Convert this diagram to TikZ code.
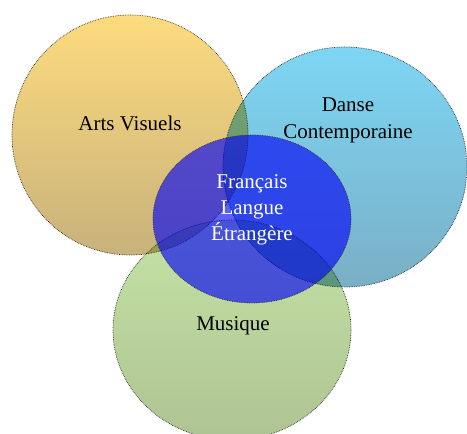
\documentclass[tikz,border=0pt]{standalone}
\definecolor{arttop}{RGB}{253,219,126}
\definecolor{artbot}{RGB}{200,178,124}
\definecolor{dantop}{RGB}{125,214,245}
\definecolor{danbot}{RGB}{122,175,197}
\definecolor{mustop}{RGB}{197,227,165}
\definecolor{musbot}{RGB}{174,195,147}
\definecolor{main}{RGB}{0,0,245}
\usepackage{fontspec}
\setmainfont{Liberation Serif}
\usepackage{tikz}
\usetikzlibrary{
	positioning,
	shapes.geometric
}
\tikzset{
  % set
	cstset/.style      ={draw=black!80, densely dotted, line width=0.7pt, blend mode=multiply},
	cstset1/.style     ={cstset, top color=arttop, bottom color=artbot},
	cstset2/.style     ={cstset, top color=dantop, bottom color=danbot},
	cstset3/.style     ={cstset, top color=mustop, bottom color=musbot},
	cstsetc/.style     ={draw=black!80, densely dotted, line width=0.7pt, fill=main, fill opacity=0.63},
  % text
	csttext/.style     ={text=black, align=center, font=\fontsize{21}{27}\selectfont},
	csttextw/.style    ={csttext, text=white, font=\fontsize{21}{26}\selectfont}
}

\begin{document}
\begin{tikzpicture}[x=1pt,y=-1pt]
				\useasboundingbox (0,0) rectangle (467,434);
				\path[cstset1] (130,135) ellipse [x radius=118, y radius=120];
				\path[cstset2] (345,167) ellipse [x radius=122, y radius=120];
				\path[cstset3] (232,330) ellipse [x radius=119, y radius=110];
				\path[cstsetc] (252,219) ellipse [x radius=99, y radius=84];
				\node[csttext] (arts) at (130,123) {Arts Visuels};
				\node[csttext] (danse) at (348,120) {Danse\\Contemporaine};
				\node[csttext] (musique) at (233,326) {Musique};
				\node[csttextw] (fle) at (252,210) {Français\\Langue\\Étrangère};
			\end{tikzpicture}
\end{document}
